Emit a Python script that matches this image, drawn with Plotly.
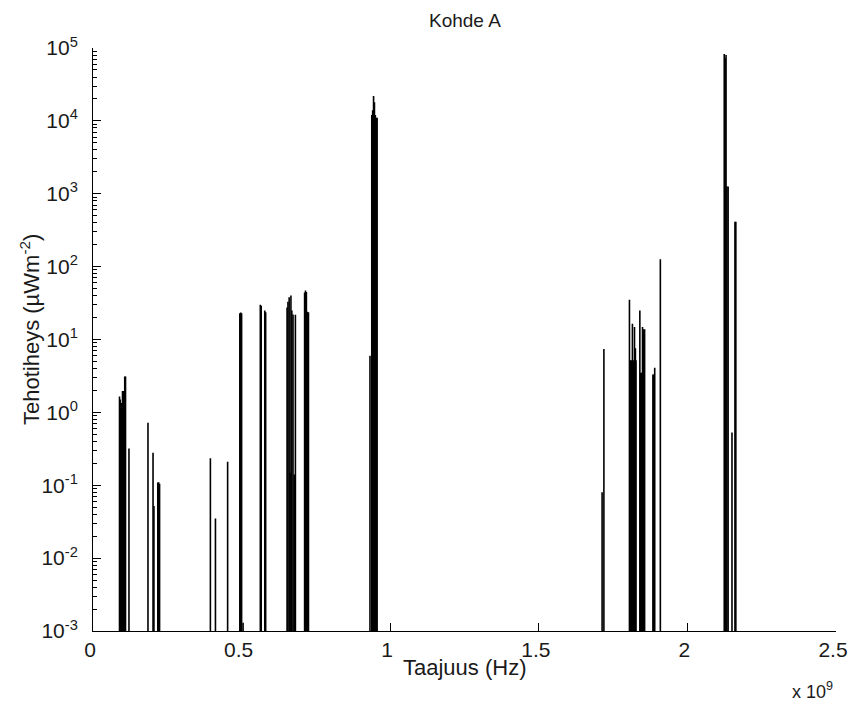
import plotly.graph_objects as go

# Peak frequencies (in units of 1e9 Hz) and power density values (uW/m^2)
freq_ghz = [
    0.0892, 0.0917, 0.0942, 0.0967, 0.0993, 0.1018, 0.1043, 0.1068, 0.1094,
    0.121,
    0.185, 0.202, 0.205, 0.218, 0.221, 0.224,
    0.395, 0.412, 0.453,
    0.494, 0.497, 0.500, 0.505,
    0.563, 0.566, 0.578, 0.581,
    0.653, 0.656, 0.660, 0.663, 0.666, 0.669, 0.673, 0.677, 0.681,
    0.712, 0.715, 0.718, 0.721, 0.725,
    0.932, 0.938, 0.941, 0.944, 0.947, 0.950, 0.953, 0.956,
    1.713, 1.719,
    1.805, 1.808, 1.811, 1.815, 1.818, 1.822, 1.825, 1.827,
    1.840, 1.843, 1.846, 1.849, 1.852, 1.856,
    1.884, 1.887, 1.890, 1.909,
    2.124, 2.127, 2.130, 2.133, 2.137, 2.150, 2.160, 2.163,
]
power = [
    1.65, 1.5, 1.35, 1.35, 1.97, 1.97, 1.97, 3.1, 3.1,
    0.32,
    0.72, 0.28, 0.052, 0.109, 0.11, 0.105,
    0.234, 0.035, 0.21,
    23, 23.5, 23, 0.0013,
    30, 29, 25, 23.7,
    27.5, 33, 38, 0.15, 40, 25, 22, 0.14, 21.9,
    44, 47, 45, 24, 23.7,
    6, 12000, 14000, 22000, 18000, 12000, 11000, 11000,
    0.08, 7.4,
    35, 5.2, 5.2, 16.4, 5.2, 14.8, 7.6, 5.2,
    25, 3.5, 3.5, 14.8, 13.8, 13.8,
    3.3, 3.3, 4.1, 126,
    83000, 73000, 80000, 1260, 1260, 0.53, 414, 414,
]

y_exponents = [-3, -2, -1, 0, 1, 2, 3, 4, 5]
x_ticks = [0, 0.5, 1, 1.5, 2, 2.5]
x_tick_labels = ["0", "0.5", "1", "1.5", "2", "2.5"]

FLOOR = 1e-6
xs, ys = [], []
for f, p in zip(freq_ghz, power):
    xs += [f, f, None]
    ys += [FLOOR, p, None]

fig = go.Figure()
fig.add_trace(go.Scatter(x=xs, y=ys, mode="lines",
                         line=dict(color="black", width=1.6),
                         hoverinfo="skip", showlegend=False))

minor_vals = [m * 10 ** e for e in y_exponents[:-1] for m in range(2, 10)]
FONT = "Liberation Sans, Arial, sans-serif"

fig.update_layout(
    template="none",
    width=851, height=704,
    margin=dict(l=93, r=15, t=48, b=73, pad=0),
    paper_bgcolor="white", plot_bgcolor="white",
    font=dict(family=FONT, size=22, color="#1a1a1a"),
    showlegend=False,
    xaxis=dict(range=[0, 2.5], tickvals=x_ticks, ticktext=x_tick_labels,
               tickfont=dict(size=21),
               ticks="inside", ticklen=8, tickcolor="black", tickwidth=1,
               ticklabeloverflow="allow", ticklabelshift=-3,
               showline=True, linecolor="black", linewidth=1,
               showgrid=False, zeroline=False, fixedrange=True,
               automargin=False),
    yaxis=dict(type="log", range=[-3, 5],
               tickvals=[10 ** e for e in y_exponents],
               ticktext=["10<sup>%d</sup>" % e for e in y_exponents],
               tickfont=dict(size=21),
               ticks="inside", ticklen=8, tickcolor="black", tickwidth=1,
               ticklabelstandoff=10, ticklabeloverflow="allow",
               minor=dict(tickvals=minor_vals, ticks="inside", ticklen=4,
                          tickcolor="black", showgrid=False),
               showline=True, linecolor="black", linewidth=1,
               showgrid=False, zeroline=False, fixedrange=True,
               automargin=False),
    annotations=[
        dict(text="Kohde A", xref="paper", yref="paper",
             x=0.5, y=(631 - 20) / 583, xanchor="center", yanchor="middle",
             showarrow=False, font=dict(size=19)),
        dict(text="Taajuus (Hz)", xref="paper", yref="paper",
             x=0.5, y=(631 - 668) / 583, xanchor="center", yanchor="middle",
             showarrow=False),
        dict(text="Tehotiheys (µWm<sup>-2</sup>)", xref="paper", yref="paper",
             x=(30 - 93) / 743, y=(631 - 330) / 583, xanchor="center",
             yanchor="middle", textangle=-90, showarrow=False),
        dict(text="x 10<sup>9</sup>", xref="paper", yref="paper",
             x=(812 - 93) / 743, y=(631 - 690) / 583, xanchor="center",
             yanchor="middle", showarrow=False, font=dict(size=18)),
    ],
)

fig.write_html("out.html")
